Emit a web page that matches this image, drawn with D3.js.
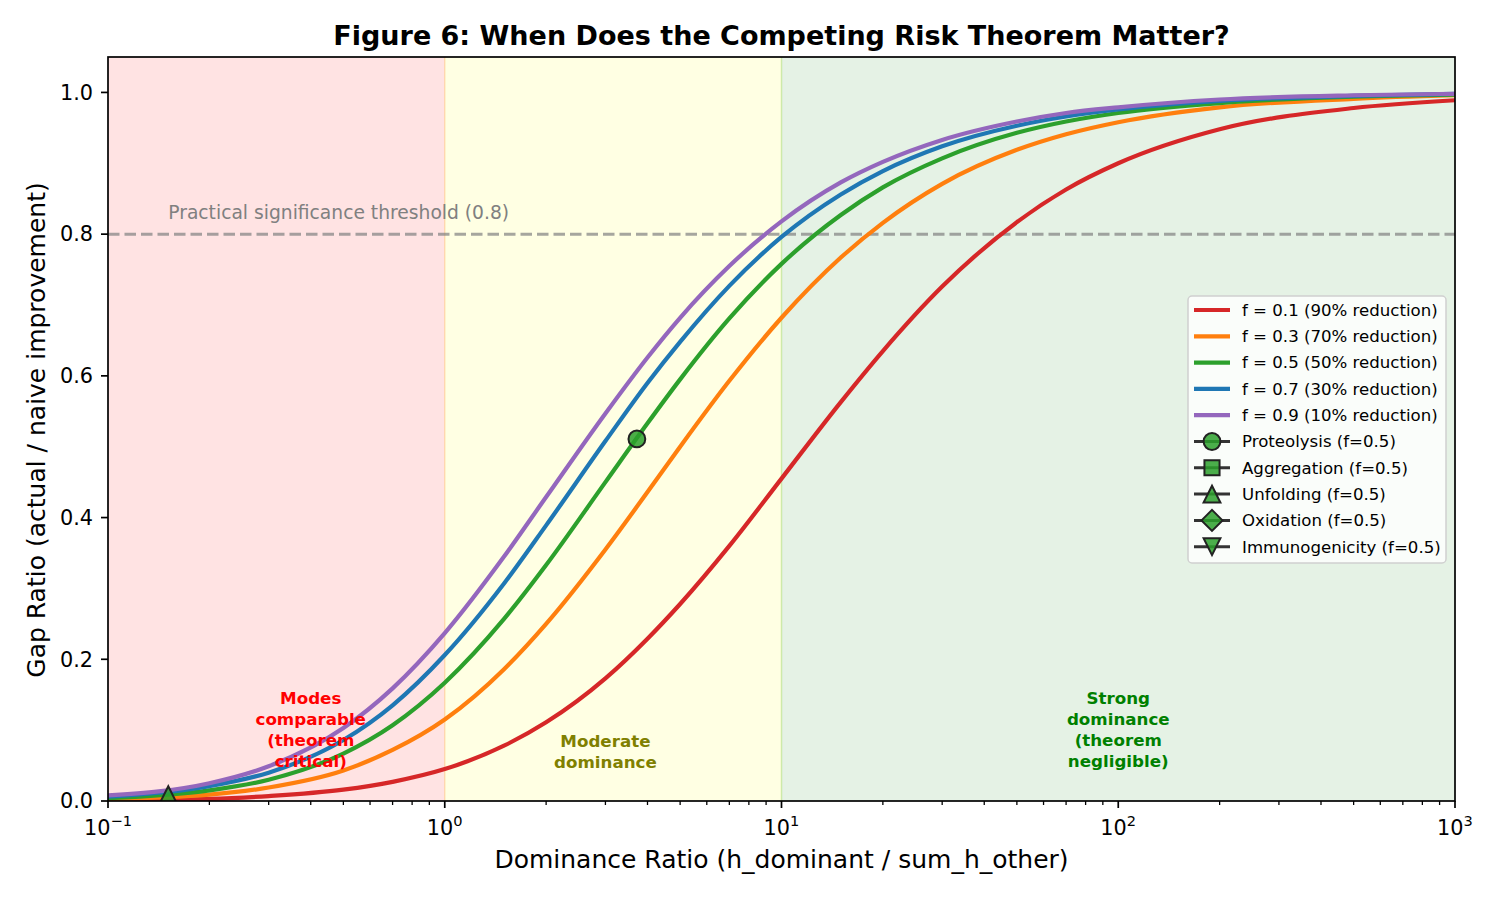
<!DOCTYPE html>
<html>
<head>
<meta charset="utf-8">
<script src="https://cdn.jsdelivr.net/npm/d3@7"></script>
<style>
	body { margin: 0; background: #fff; }
	svg { font-family: "DejaVu Sans", sans-serif; }
</style>
</head>
<body>
<svg id="fig" width="1500" height="900"></svg>
<script>

// ---- data --------------------------------------------------------------------

var ratios = [0.1, 0.2, 0.3, 0.5, 0.7, 1, 1.5, 2, 3, 4, 5, 7, 10, 15, 20, 30, 50, 70, 100, 200, 500, 1000];

var gapF01 = [0.001, 0.003, 0.007, 0.016, 0.027, 0.045, 0.078, 0.111, 0.173, 0.229, 0.278, 0.360, 0.455, 0.563, 0.635, 0.726, 0.817, 0.863, 0.900, 0.948, 0.978, 0.989];
var gapF03 = [0.003, 0.009, 0.019, 0.043, 0.072, 0.115, 0.186, 0.250, 0.355, 0.436, 0.500, 0.593, 0.682, 0.767, 0.816, 0.871, 0.919, 0.941, 0.958, 0.979, 0.991, 0.996];
var gapF05 = [0.004, 0.015, 0.030, 0.067, 0.107, 0.167, 0.257, 0.333, 0.450, 0.533, 0.595, 0.681, 0.758, 0.827, 0.866, 0.907, 0.943, 0.959, 0.971, 0.985, 0.994, 0.997];
var gapF07 = [0.006, 0.021, 0.040, 0.086, 0.135, 0.206, 0.307, 0.389, 0.508, 0.590, 0.648, 0.727, 0.796, 0.856, 0.889, 0.924, 0.953, 0.966, 0.976, 0.988, 0.995, 0.998];
var gapF09 = [0.008, 0.025, 0.049, 0.103, 0.159, 0.237, 0.345, 0.429, 0.547, 0.626, 0.682, 0.755, 0.818, 0.873, 0.902, 0.933, 0.959, 0.971, 0.979, 0.990, 0.996, 0.998];

var seriesLabels = ["f = 0.1 (90% reduction)", "f = 0.3 (70% reduction)", "f = 0.5 (50% reduction)", "f = 0.7 (30% reduction)", "f = 0.9 (10% reduction)"];
var seriesColors = ["#d62728", "#ff7f0e", "#2ca02c", "#1f77b4", "#9467bd"];
var seriesGaps = [gapF01, gapF03, gapF05, gapF07, gapF09];

// failure modes, only two of them fall inside the plotted range
var modeNames = ["Proteolysis", "Aggregation", "Unfolding", "Oxidation", "Immunogenicity"];
var modeSymbols = ["circle", "square", "triangle", "diamond", "triangleDown"];
var modeRatio = [3.72, null, 0.151, null, null];
var modeGap = [0.511, null, 0.009, null, null];

var regionBounds = [[0.1, 1], [1, 10], [10, 1000]];
var regionFills = ["rgba(255,0,0,0.11)", "rgba(255,255,0,0.11)", "rgba(0,128,0,0.1)"];
var regionEdges = ["rgba(255,0,0,0.1)", "rgba(255,170,60,0.3)", "rgba(140,210,60,0.35)"];
var regionText = [["Modes", "comparable", "(theorem", "critical)"], ["Moderate", "dominance"], ["Strong", "dominance", "(theorem", "negligible)"]];
var regionTextX = [0.4, 3, 100];
var regionTextY = [0.1, 0.07, 0.1];
var regionTextColors = ["#ff0000", "#808000", "#008000"];

var yTicks = [0, 0.2, 0.4, 0.6, 0.8, 1.0];
var xTicks = [0.1, 1, 10, 100, 1000];
var xTickExp = ["\u22121", "0", "1", "2", "3"];
var threshold = 0.8;

// ---- setup -------------------------------------------------------------------

var m = [57, 45, 99, 108],
	width = 1500,
	height = 900,
	w = width - m[1] - m[3],
	h = height - m[0] - m[2];

var svg = d3.select("#fig");

var xScale = d3.scaleLog()
	.domain([0.1, 1000])
	.range([m[3], m[3] + w]);

var yScale = d3.scaleLinear()
	.domain([0, 1.05])
	.range([m[0] + h, m[0]]);

svg.append("defs").append("clipPath")
	.attr("id", "plotClip")
	.append("rect")
	.attr("x", m[3])
	.attr("y", m[0])
	.attr("width", w)
	.attr("height", h);

var plot = svg.append("g").attr("clip-path", "url(#plotClip)");

// shaded regions
plot.selectAll("rect.region")
	.data(regionBounds)
	.enter()
	.append("rect")
	.attr("class", "region")
	.attr("x", d => xScale(d[0]))
	.attr("y", m[0])
	.attr("width", d => xScale(d[1]) - xScale(d[0]))
	.attr("height", h)
	.attr("fill", (d, i) => regionFills[i]);

plot.selectAll("line.edge")
	.data(regionBounds.slice(1))
	.enter()
	.append("line")
	.attr("class", "edge")
	.attr("x1", d => xScale(d[0]))
	.attr("x2", d => xScale(d[0]))
	.attr("y1", m[0])
	.attr("y2", m[0] + h)
	.attr("stroke", (d, i) => regionEdges[i + 1])
	.attr("stroke-width", 1.5);

// threshold
plot.append("line")
	.attr("x1", m[3])
	.attr("x2", m[3] + w)
	.attr("y1", yScale(threshold))
	.attr("y2", yScale(threshold))
	.attr("stroke", "#808080")
	.attr("stroke-opacity", 0.7)
	.attr("stroke-width", 3)
	.attr("stroke-dasharray", "11.5,5");

svg.append("text")
	.attr("x", xScale(0.151))
	.attr("y", yScale(threshold) - 15)
	.text("Practical significance threshold (0.8)")
	.attr("font-size", 18.7)
	.attr("fill", "#808080");

// curves
var line = d3.line()
	.x(d => xScale(d[0]))
	.y(d => yScale(d[1]))
	.curve(d3.curveMonotoneX);

plot.selectAll("path.curve")
	.data(seriesGaps)
	.enter()
	.append("path")
	.attr("class", "curve")
	.attr("d", g => line(ratios.map((r, i) => [r, g[i]])))
	.attr("fill", "none")
	.attr("stroke", (d, i) => seriesColors[i])
	.attr("stroke-width", 4.2);

// region labels
regionText.forEach(function(lines, k) {
	var n = lines.length;
	svg.append("text")
		.attr("x", xScale(regionTextX[k]))
		.attr("y", yScale(regionTextY[k]) - (n - 1) * 21 / 2)
		.attr("text-anchor", "middle")
		.attr("font-size", 16.7)
		.attr("font-weight", "bold")
		.attr("fill", regionTextColors[k])
		.selectAll("tspan")
		.data(lines)
		.enter()
		.append("tspan")
		.attr("x", xScale(regionTextX[k]))
		.attr("dy", (d, i) => i == 0 ? "0.35em" : 21)
		.text(d => d);
});

// markers, drawn as matplotlib-like shapes (s = half size)
function markerPath(type, s) {
	switch (type) {
		case "circle":
			return `M ${s} 0 A ${s} ${s} 0 1 1 ${-s} 0 A ${s} ${s} 0 1 1 ${s} 0 Z`;
		case "square":
			var q = s * 0.9;
			return `M ${-q} ${-q} L ${q} ${-q} L ${q} ${q} L ${-q} ${q} Z`;
		case "triangle":
			return `M 0 ${-s} L ${s} ${s} L ${-s} ${s} Z`;
		case "triangleDown":
			return `M 0 ${s} L ${s} ${-s} L ${-s} ${-s} Z`;
		case "diamond":
			var dd = s * 1.25;
			return `M 0 ${-dd} L ${dd} 0 L 0 ${dd} L ${-dd} 0 Z`;
	}
}

var modes = modeNames.map((n, i) => ({name: n, sym: modeSymbols[i], r: modeRatio[i], g: modeGap[i]}));

svg.append("g")
	.attr("clip-path", "url(#plotClip)")
	.selectAll("path")
	.data(modes.filter(d => d.r != null))
	.enter()
	.append("path")
	.attr("d", d => markerPath(d.sym, 8.4))
	.attr("transform", d => `translate(${xScale(d.r)},${yScale(d.g)})`)
	.attr("fill", "rgba(44,160,44,0.85)")
	.attr("stroke", "#222")
	.attr("stroke-width", 2);

// ---- axes --------------------------------------------------------------------

var axisG = svg.append("g").attr("font-size", 20.8).attr("fill", "#000");

axisG.append("rect")
	.attr("x", m[3])
	.attr("y", m[0])
	.attr("width", w)
	.attr("height", h)
	.attr("fill", "none")
	.attr("stroke", "#000")
	.attr("stroke-width", 1.7);

// y ticks
yTicks.forEach(function(t) {
	axisG.append("line")
		.attr("x1", m[3] - 7).attr("x2", m[3])
		.attr("y1", yScale(t)).attr("y2", yScale(t))
		.attr("stroke", "#000").attr("stroke-width", 1.7);
	axisG.append("text")
		.attr("x", m[3] - 15)
		.attr("y", yScale(t))
		.attr("dy", "0.35em")
		.attr("text-anchor", "end")
		.text(t.toFixed(1));
});

// x major + minor ticks
var minorTicks = [];
for (var e = -1; e < 3; e++) {
	for (var k = 2; k < 10; k++) minorTicks.push(k * Math.pow(10, e));
}
minorTicks.forEach(function(t) {
	axisG.append("line")
		.attr("x1", xScale(t)).attr("x2", xScale(t))
		.attr("y1", m[0] + h).attr("y2", m[0] + h + 4)
		.attr("stroke", "#000").attr("stroke-width", 1.3);
});
xTicks.forEach(function(t, i) {
	axisG.append("line")
		.attr("x1", xScale(t)).attr("x2", xScale(t))
		.attr("y1", m[0] + h).attr("y2", m[0] + h + 7)
		.attr("stroke", "#000").attr("stroke-width", 1.7);
	var lab = axisG.append("text")
		.attr("x", xScale(t))
		.attr("y", 835)
		.attr("text-anchor", "middle");
	lab.append("tspan").text("10");
	lab.append("tspan")
		.attr("font-size", 14.6)
		.attr("dy", -9)
		.text(xTickExp[i]);
});

// labels
svg.append("text")
	.attr("x", m[3] + w / 2)
	.attr("y", 868)
	.attr("text-anchor", "middle")
	.attr("font-size", 25)
	.text("Dominance Ratio (h_dominant / sum_h_other)");

svg.append("text")
	.attr("transform", `translate(36,${m[0] + h / 2 + 1}) rotate(-90)`)
	.attr("text-anchor", "middle")
	.attr("dy", "0.35em")
	.attr("font-size", 25)
	.text("Gap Ratio (actual / naive improvement)");

svg.append("text")
	.attr("x", m[3] + w / 2)
	.attr("y", 45)
	.attr("text-anchor", "middle")
	.attr("font-size", 27)
	.attr("font-weight", "bold")
	.text("Figure 6: When Does the Competing Risk Theorem Matter?");

// ---- legend ------------------------------------------------------------------

var lgX = 1188, lgY = 296, lgW = 258, lgH = 267, rowH = 26.3;

var legend = svg.append("g").attr("font-size", 16.6);

legend.append("rect")
	.attr("x", lgX).attr("y", lgY)
	.attr("width", lgW).attr("height", lgH)
	.attr("rx", 4)
	.attr("fill", "rgba(255,255,255,0.8)")
	.attr("stroke", "#d0d0d0")
	.attr("stroke-width", 1.5);

var entries = seriesLabels.map((l, i) => ({label: l, color: seriesColors[i], sym: null}))
	.concat(modes.map(d => ({label: `${d.name} (f=0.5)`, color: "#333", sym: d.sym})));

entries.forEach(function(d, i) {
	var y = lgY + 14 + i * rowH;
	legend.append("line")
		.attr("x1", lgX + 6).attr("x2", lgX + 42)
		.attr("y1", y).attr("y2", y)
		.attr("stroke", d.color)
		.attr("stroke-width", d.sym ? 3 : 4.2);
	if (d.sym) {
		legend.append("path")
			.attr("d", markerPath(d.sym, 8.4))
			.attr("transform", `translate(${lgX + 24},${y})`)
			.attr("fill", "rgba(44,160,44,0.85)")
			.attr("stroke", "#222")
			.attr("stroke-width", 2);
	}
	legend.append("text")
		.attr("x", lgX + 54)
		.attr("y", y)
		.attr("dy", "0.35em")
		.text(d.label);
});

</script>
</body>
</html>
